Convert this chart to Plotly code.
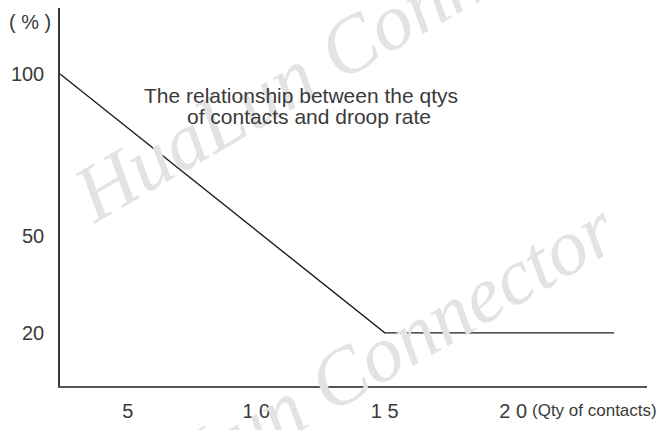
import plotly.graph_objects as go

# Data
qty_contacts = [2.36, 15, 23.93]
droop_rate = [100, 20, 20]

x_tickvals = [5, 10, 15, 20]
x_ticktext = ["5", "1 0", "1 5", "2 0"]
y_tickvals = [100, 50, 20]
y_ticktext = ["100", "50", "20"]

title_lines = ["The relationship between the qtys", "of contacts and droop rate"]
y_unit = "( % )"
x_unit = "(Qty of contacts)"
watermark = "HuaLun Connector"

W, H = 661, 430
L, R, T, B = 60, 14, 8, 38
pw, ph = W - L - R, H - T - B

def px(xp):
    return (xp - L) / pw

def py(yp):
    return (H - B - yp) / ph

TEXT = "#3a3a3a"
FONT = "Liberation Sans, Arial, sans-serif"

fig = go.Figure()
fig.add_trace(go.Scatter(
    x=qty_contacts, y=droop_rate, mode="lines",
    line=dict(color="#1e1a1a", width=1.4),
    hoverinfo="skip", showlegend=False,
))

annotations = []
# watermarks
for cx, cy in [(350, 46), (340, 383)]:
    annotations.append(dict(
        text=watermark, xref="paper", yref="paper", x=px(cx), y=py(cy),
        xanchor="center", yanchor="middle", showarrow=False, textangle=-30,
        font=dict(family="Liberation Serif, Times New Roman, serif", size=80,
                  color="#e4e2e2", style="italic"),
    ))
# title lines
for t, cx, cy in [(title_lines[0], 301, 97), (title_lines[1], 309, 118)]:
    annotations.append(dict(
        text=t, xref="paper", yref="paper", x=px(cx), y=py(cy),
        xanchor="center", yanchor="middle", showarrow=False,
        font=dict(family=FONT, size=21, color=TEXT),
    ))
annotations.append(dict(
    text=y_unit, xref="paper", yref="paper", x=px(7), y=py(22),
    xanchor="left", yanchor="middle", showarrow=False,
    font=dict(family=FONT, size=20, color=TEXT),
))
annotations.append(dict(
    text=x_unit, xref="paper", yref="paper", x=px(659), y=py(417),
    xanchor="right", yanchor="middle", showarrow=False,
    font=dict(family=FONT, size=17, color=TEXT),
))

fig.update_layout(
    width=W, height=H,
    margin=dict(l=L, r=R, t=T, b=B, pad=0),
    paper_bgcolor="white", plot_bgcolor="white",
    annotations=annotations,
    xaxis=dict(
        range=[2.356, 25.21], showgrid=False, zeroline=False,
        showline=True, linecolor="#595454", linewidth=2.2,
        tickmode="array", tickvals=x_tickvals, ticktext=x_ticktext,
        ticks="", ticklabelstandoff=6,
        tickfont=dict(family=FONT, size=20, color=TEXT),
    ),
    yaxis=dict(
        range=[3.57, 120.4], showgrid=False, zeroline=False,
        showline=True, linecolor="#3d3838", linewidth=1.5,
        tickmode="array", tickvals=y_tickvals, ticktext=y_ticktext,
        ticks="", ticklabelstandoff=10,
        tickfont=dict(family=FONT, size=20, color=TEXT),
    ),
)

fig.write_html(
    "out.html",
    config={"displayModeBar": False},
    post_script="document.body.style.margin='0';document.body.style.overflow='hidden';",
)
